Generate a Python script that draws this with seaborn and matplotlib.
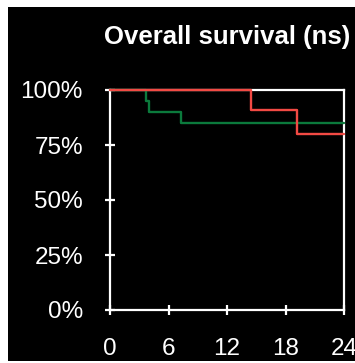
import matplotlib
matplotlib.use('Agg')
import matplotlib.pyplot as plt
import seaborn as sns
import pandas as pd
from matplotlib.patches import Rectangle

# ========== 数据 ==========
green_months = [0, 3.7, 4.0, 7.3, 24]
green_surv = [1.00, 0.95, 0.90, 0.85, 0.85]
red_months = [0, 14.5, 19.2, 24]
red_surv = [1.00, 0.909, 0.80, 0.80]

x_ticks = [0, 6, 12, 18, 24]
y_ticks = [0, 0.25, 0.5, 0.75, 1.0]
y_labels = ['0%', '25%', '50%', '75%', '100%']
title = 'Overall survival (ns)'

df = pd.concat([
    pd.DataFrame({'month': green_months, 'surv': green_surv, 'arm': 'green'}),
    pd.DataFrame({'month': red_months, 'surv': red_surv, 'arm': 'red'}),
])

sns.set_style('dark')
plt.rcParams['font.family'] = ['Liberation Sans', 'DejaVu Sans']

fig = plt.figure(figsize=(3.55, 3.63), dpi=100, facecolor='white')
# 黑色背景区域（左、上、下有白边）
fig.patches.append(Rectangle((8 / 355, 2 / 363), 1 - 8 / 355, 1 - 9 / 363,
                             transform=fig.transFigure, facecolor='black',
                             edgecolor='none', zorder=-5))
ax = fig.add_axes([110 / 355, 1 - 310 / 363, 234 / 355, 220 / 363])
ax.set_facecolor('black')
ax.set_zorder(1)

sns.lineplot(data=df, x='month', y='surv', hue='arm',
             palette={'green': '#0b7a3c', 'red': '#f24a44'},
             drawstyle='steps-post', linewidth=1.7, legend=False, ax=ax,
             hue_order=['green', 'red'])
for line in ax.lines:
    line.set_clip_on(False)
    line.set_zorder(3)

ax.set_xlim(0, 24)
ax.set_ylim(0, 1.0)
ax.set_xticks(x_ticks)
ax.set_yticks(y_ticks)
ax.set_yticklabels(y_labels)
ax.set_xlabel('')
ax.set_ylabel('')
ax.grid(False)
for s in ax.spines.values():
    s.set_visible(True)
    s.set_color('white')
    s.set_linewidth(1.6)
ax.tick_params(bottom=True, left=True, colors='white', labelcolor='white',
               direction='inout', length=7, width=1.6, labelsize=17.5)
ax.tick_params(axis='y', pad=16)
ax.tick_params(axis='x', pad=17)
ax.set_title(title, color='white', fontsize=18.5, fontweight='bold', pad=33)

fig.savefig('out.png', dpi=100, facecolor='white')
